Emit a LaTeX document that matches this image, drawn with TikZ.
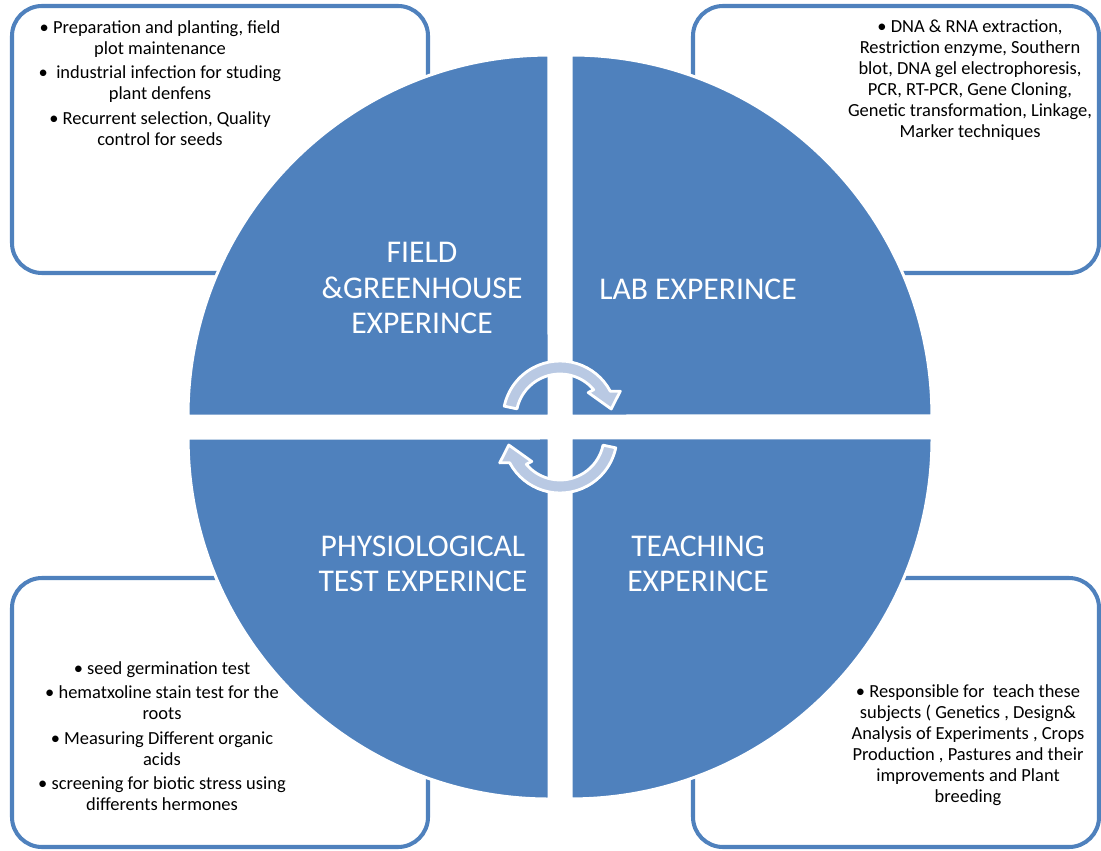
\documentclass[tikz,border=0pt]{standalone}
\usepackage{fontspec}
\setmainfont{Carlito}
\usetikzlibrary{positioning}
\definecolor{qblue}{HTML}{4F81BD}
\definecolor{cyclight}{HTML}{B9C9E3}

\begin{document}
\begin{tikzpicture}[x=0.02cm,y=0.02cm]
\tikzstyle{infobox}=[draw=qblue, line width=2.3pt, fill=white, rounded corners=0.6cm];
\tikzstyle{quad}=[fill=qblue, draw=white, line width=1.7pt];
\tikzstyle{cyc}=[fill=cyclight, draw=white, line width=1.6pt, line join=round];
\tikzstyle{title}=[text=white, align=center, font=\fontsize{18}{20}\selectfont];
\tikzstyle{info}=[text=black, align=center, font=\fontsize{10.5}{11.9}\selectfont];
\useasboundingbox (0,0) rectangle (1101,850);
   % corner boxes
   \draw[infobox] (12,577) rectangle (428,844);
   \draw[infobox] (693,577) rectangle (1099,844);
   \draw[infobox] (12,3) rectangle (428,272);
   \draw[infobox] (693,3) rectangle (1099,272);
   % the four quadrants
   \filldraw[quad] (549,434) -- ++(-361,0) arc (180:90:7.22cm) -- cycle;
   \filldraw[quad] (571,434) -- ++(0,361) arc (90:0:7.22cm) -- cycle;
   \filldraw[quad] (571,412) -- ++(361,0) arc (0:-90:7.22cm) -- cycle;
   \filldraw[quad] (549,412) -- ++(0,-361) arc (270:180:7.22cm) -- cycle;
   % cycle arrows
   \begin{scope}[shift={(560,432)}]
     \filldraw[cyc] (168:0.88cm) arc (168:40:0.88cm) -- (42:0.76cm) -- (10:1.04cm)
        -- (24:1.32cm) -- (28:1.14cm) arc (28:168:1.14cm) -- cycle;
   \end{scope}
   \begin{scope}[shift={(560,414)}, rotate=180]
     \filldraw[cyc] (168:0.88cm) arc (168:40:0.88cm) -- (42:0.76cm) -- (10:1.04cm)
        -- (24:1.32cm) -- (28:1.14cm) arc (28:168:1.14cm) -- cycle;
   \end{scope}
   % titles
   \node[title] (field) at (422,562) {FIELD\\ \&GREENHOUSE\\ EXPERINCE};
   \node[title] (lab) at (698,561) {LAB EXPERINCE};
   \node[title] (physio) at (423,286) {PHYSIOLOGICAL\\ TEST EXPERINCE};
   \node[title] (teach) at (698,286) {TEACHING\\ EXPERINCE};
   % texts of the boxes
   \node[info] (fieldtxt) at (160,767) {\textbullet\ Preparation and planting, field\\ plot maintenance\\[2pt]
      \textbullet\ \ industrial infection for studing\\ plant denfens\\[2pt]
      \textbullet\ Recurrent selection, Quality\\ control for seeds};
   \node[info] (labtxt) at (970,770) {\textbullet\ DNA \& RNA extraction,\\ Restriction enzyme, Southern\\
      blot, DNA gel electrophoresis,\\ PCR, RT-PCR, Gene Cloning,\\
      Genetic transformation, Linkage,\\ Marker techniques};
   \node[info] (physiotxt) at (162,114) {\textbullet\ seed germination test\\[2pt]
      \textbullet\ hematxoline stain test for the\\ roots\\[2pt]
      \textbullet\ Measuring Different organic\\ acids\\[2pt]
      \textbullet\ screening for biotic stress using\\ differents hermones};
   \node[info] (teachtxt) at (968,105) {\textbullet\ Responsible for \ teach these\\ subjects ( Genetics , Design\&\\
      Analysis of Experiments , Crops\\ Production , Pastures and their\\
      improvements and Plant\\ breeding};
\end{tikzpicture}
\end{document}
